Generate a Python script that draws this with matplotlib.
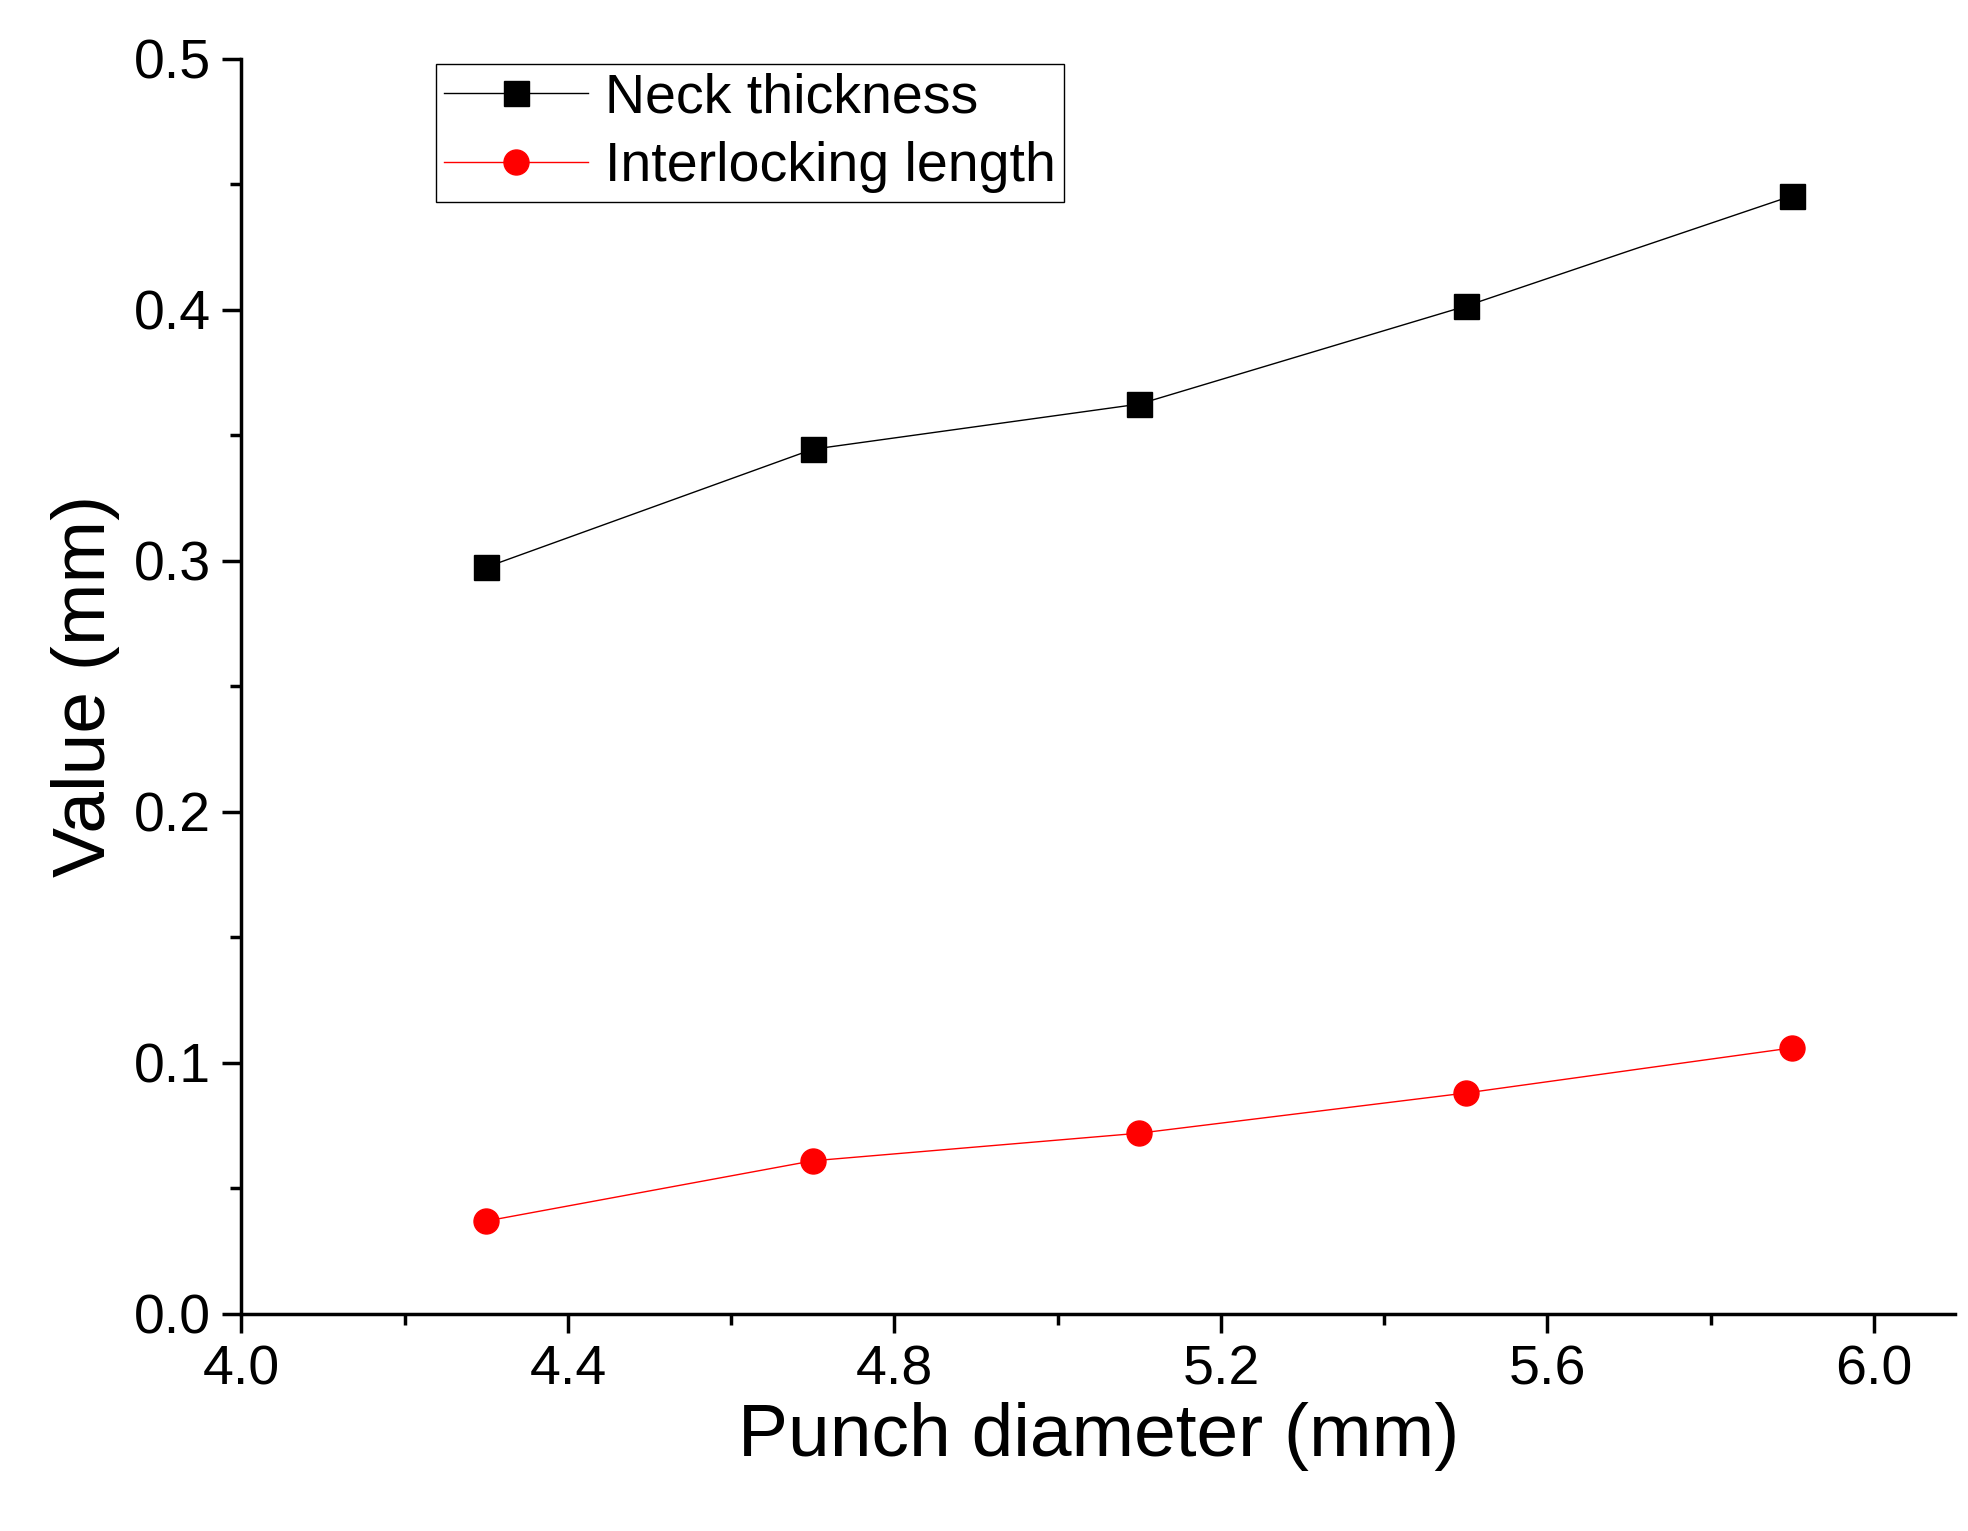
import matplotlib.pyplot as plt
from matplotlib.ticker import MultipleLocator

# data
punch_diameter = [4.3, 4.7, 5.1, 5.5, 5.9]
neck_thickness = [0.2975, 0.3445, 0.3625, 0.4015, 0.4455]
interlocking_length = [0.037, 0.061, 0.072, 0.088, 0.106]
x_ticks = [4.0, 4.4, 4.8, 5.2, 5.6, 6.0]
y_ticks = [0.0, 0.1, 0.2, 0.3, 0.4, 0.5]

plt.rcParams["font.family"] = "Liberation Sans"

fig = plt.figure(figsize=(19.68, 15.31), dpi=100)
ax = fig.add_axes([0.1227, 0.1418, 0.8709, 0.8197])

ax.plot(punch_diameter, neck_thickness, color="black", lw=1, marker="s",
        markersize=18, label="Neck thickness")
ax.plot(punch_diameter, interlocking_length, color="red", lw=1, marker="o",
        markersize=18, label="Interlocking length")

ax.set_xlim(4.0, 6.1)
ax.set_ylim(0, 0.5)
ax.set_xticks(x_ticks)
ax.set_xticklabels([f"{v:.1f}" for v in x_ticks])
ax.set_yticks(y_ticks)
ax.set_yticklabels([f"{v:.1f}" for v in y_ticks])
ax.xaxis.set_minor_locator(MultipleLocator(0.2))
ax.yaxis.set_minor_locator(MultipleLocator(0.05))

for s in ["top", "right"]:
    ax.spines[s].set_visible(False)
for s in ["left", "bottom"]:
    ax.spines[s].set_linewidth(2.5)
ax.tick_params(which="major", direction="out", length=14, width=2.5, labelsize=40, pad=8)
ax.tick_params(which="minor", direction="out", length=8, width=2.5)

ax.set_xlabel("Punch diameter (mm)", fontsize=54, labelpad=4)
ax.set_ylabel("Value (mm)", fontsize=54, labelpad=10)

leg = ax.legend(loc="upper left", bbox_to_anchor=(0.11, 1.0), fontsize=40,
                fancybox=False, edgecolor="black", framealpha=1,
                handlelength=2.6, borderpad=0.15, labelspacing=0.3,
                handletextpad=0.3, borderaxespad=0.1)
leg.get_frame().set_linewidth(1)

fig.savefig("out.png")
